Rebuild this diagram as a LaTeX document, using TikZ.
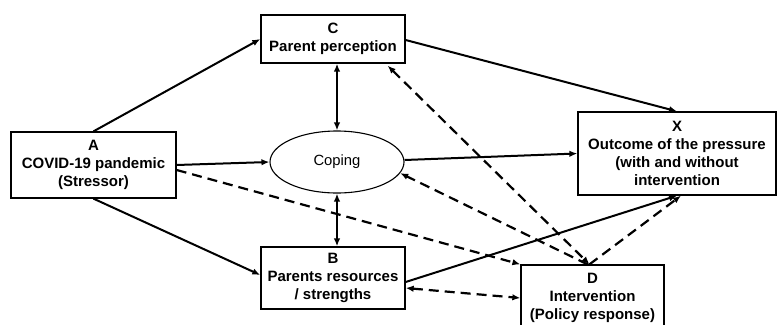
\documentclass[tikz,border=0pt]{standalone}
\usepackage{fontspec}
\setmainfont{Liberation Sans}
\usetikzlibrary{shapes.geometric,arrows.meta}
\begin{document}
\begin{tikzpicture}[x=1pt,y=-1pt,
  box/.style={draw,line width=1.3pt,align=center,inner sep=0pt,
    font=\bfseries\fontsize{15}{18}\selectfont},
  sol/.style={line width=2pt,-{Latex[length=8pt,width=6.5pt]}},
  dsh/.style={line width=2.2pt,dash pattern=on 10pt off 6pt,-{Latex[length=8pt,width=6.5pt]}},
  dsh2/.style={dsh,{Latex[length=8pt,width=6.5pt]}-{Latex[length=8pt,width=6.5pt]}},
  sol2/.style={sol,{Latex[length=8pt,width=6.5pt]}-{Latex[length=8pt,width=6.5pt]}}]
\useasboundingbox (0,0) rectangle (778,324);
\clip (0,0) rectangle (778,324);
\fill[white] (0,0) rectangle (778,324);
\node[box,minimum width=165pt,minimum height=66pt] (A) at (93.5,165) {A\\COVID-19 pandemic\\(Stressor)};
\node[box,minimum width=144pt,minimum height=48pt] (C) at (333,39) {C\\Parent perception};
\node[box,minimum width=144pt,minimum height=62pt] (B) at (333,278) {B\\Parents resources\\/ strengths};
\node[box,minimum width=198pt,minimum height=83pt] (X) at (677,153.5) {X\\Outcome of the pressure\\(with and without\\intervention};
\node[box,minimum width=143pt,minimum height=66pt] (D) at (592.5,298) {D\\Intervention\\(Policy response)};
\node[draw,ellipse,line width=1.1pt,minimum width=134pt,minimum height=62pt,inner sep=0pt,
  font=\fontsize{14.8}{16}\selectfont] (cop) at (337,162) {Coping};
\draw[sol] (A.north) -- (C.west);
\draw[sol] (A.east) -- (cop.west);
\draw[sol] (A.south) -- ([yshift=3pt]B.west);
\draw[dsh] ([yshift=-5pt]A.east) -- (D.north west);
\draw[sol2] (cop.north) -- (cop.north |- C.south);
\draw[sol2] (cop.south) -- (cop.south |- B.north);
\draw[sol] ([yshift=-1pt]C.east) -- (X.north);
\draw[sol] ([yshift=2pt]cop.east) -- (X.west);
\draw[sol] ([yshift=-4pt]B.east) -- (X.south);
\draw[dsh2] ([yshift=-10pt]B.east) -- (D.west);
\draw[dsh2] ([xshift=-18pt,yshift=-2pt]C.south east) -- ([xshift=-3pt]D.north);
\draw[dsh] ([xshift=-5pt]D.north) -- (cop.-10);
\draw[dsh] ([xshift=-3pt]D.north) -- ([xshift=4pt]X.south);
\end{tikzpicture}
\end{document}
